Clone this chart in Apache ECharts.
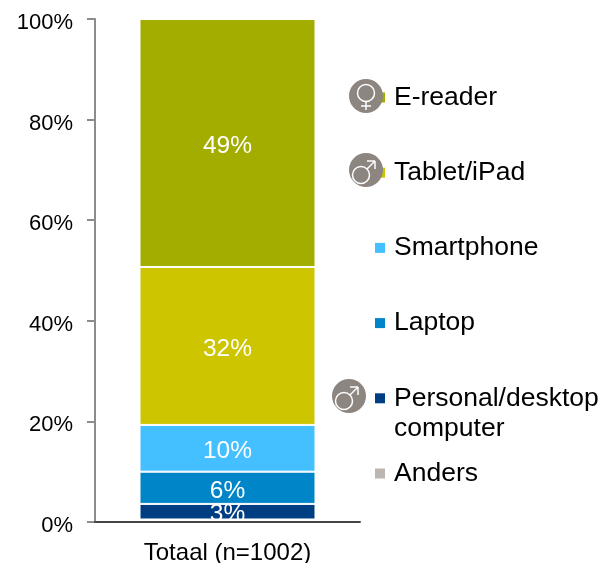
<!DOCTYPE html>
<html>
<head>
<meta charset="utf-8">
<style>
  html, body { margin: 0; padding: 0; background: #fff; }
  #chart { width: 603px; height: 563px; }
</style>
<script src="https://cdn.jsdelivr.net/npm/echarts@6/dist/echarts.min.js"></script>
</head>
<body>
<div id="chart"></div>
<script>
const categories = ['Totaal (n=1002)']
const seriesNames = ['Anders', 'Personal/desktop', 'Laptop', 'Smartphone', 'Tablet/iPad', 'E-reader']
const seriesValues = [0.5, 3.1, 6.4, 9.3, 31.4, 49.3]
const seriesLabels = ['', '3%', '6%', '10%', '32%', '49%']
const seriesColors = ['#bcb5b0', '#003e83', '#0085c8', '#44bfff', '#cdc500', '#a2ad00']
const tickLabels = ['0%', '20%', '40%', '60%', '80%', '100%']

const font = '"Liberation Sans", Arial, sans-serif'
const grey = '#8c8580'

// white ring + strokes on a grey disc, same as the gender badges in the legend
function badge (cx, cy, female) {
  const line = (x1, y1, x2, y2) => ({
    type: 'line',
    shape: { x1, y1, x2, y2 },
    style: { stroke: '#fff', lineWidth: 1.5 },
    z: 20
  })
  const els = [
    { type: 'circle', shape: { cx, cy, r: 17 }, style: { fill: grey }, z: 20 }
  ]
  if (female) {
    els.push({ type: 'circle', shape: { cx, cy: cy - 3, r: 8.5 }, style: { fill: 'none', stroke: '#fff', lineWidth: 1.5 }, z: 20 })
    els.push(line(cx, cy + 5.5, cx, cy + 14))
    els.push(line(cx - 5, cy + 10, cx + 5, cy + 10))
  } else {
    els.push({ type: 'circle', shape: { cx: cx - 5, cy: cy + 5, r: 8.5 }, style: { fill: 'none', stroke: '#fff', lineWidth: 1.5 }, z: 20 })
    els.push(line(cx + 1, cy - 1, cx + 9, cy - 9))
    els.push(line(cx + 1, cy - 9, cx + 9, cy - 9))
    els.push(line(cx + 9, cy - 9, cx + 9, cy - 1))
  }
  return els
}

function legendBlock (names, top, itemGap) {
  return {
    orient: 'vertical',
    left: 370,
    top,
    itemWidth: 10,
    itemHeight: 10,
    itemGap,
    selectedMode: false,
    icon: 'rect',
    data: names,
    itemStyle: { borderWidth: 0 },
    textStyle: { fontFamily: font, fontSize: 26.5, color: '#000', padding: [0, 0, 0, 4] }
  }
}

const myChart = echarts.init(document.getElementById('chart'))
myChart.setOption({
  animation: false,
  textStyle: { fontFamily: font },
  grid: { left: 95, right: 243, top: 19, bottom: 41, outerBoundsMode: 'none' },
  legend: [
    legendBlock(['E-reader', 'Tablet/iPad', 'Smartphone', 'Laptop', 'Personal/desktop'], 79, 48.2),
    legendBlock(['Anders'], 455, 0)
  ],
  xAxis: {
    type: 'category',
    data: categories,
    z: 5,
    axisLine: { lineStyle: { color: '#444', width: 2 } },
    axisTick: { show: false },
    axisLabel: { color: '#000', fontSize: 24, margin: 19, fontFamily: font }
  },
  yAxis: {
    type: 'value',
    min: 0,
    max: 100,
    interval: 20,
    axisLine: { show: true, lineStyle: { color: '#8c8c8c', width: 2 } },
    axisTick: { show: true, length: 8, lineStyle: { color: '#8c8c8c', width: 2 } },
    splitLine: { show: false },
    axisLabel: {
      color: '#000',
      fontSize: 22,
      margin: 22,
      verticalAlign: 'top',
      verticalAlignMinLabel: 'top',
      verticalAlignMaxLabel: 'top',
      lineHeight: 8,
      fontFamily: font,
      formatter: (v) => tickLabels[v / 20]
    }
  },
  series: seriesNames.map((name, i) => ({
    name,
    type: 'bar',
    stack: 'total',
    barWidth: 176,
    z: 2,
    data: [seriesValues[i]],
    // the bottom sliver disappears under its white edge
    itemStyle: { color: seriesColors[i], borderColor: '#fff', borderWidth: i === 0 ? 2 : 1 },
    label: {
      show: seriesLabels[i] !== '',
      position: 'inside',
      offset: [0, 3],
      formatter: seriesLabels[i],
      color: '#fff',
      fontSize: 24.5,
      fontFamily: font
    }
  })),
  graphic: [
    ...badge(366, 96, true),
    ...badge(366, 170, false),
    ...badge(349, 396, false),
    {
      type: 'text',
      left: 394,
      top: 415,
      style: { text: 'computer', fontFamily: font, fontSize: 26.5, fill: '#000' }
    }
  ]
})
</script>
</body>
</html>
